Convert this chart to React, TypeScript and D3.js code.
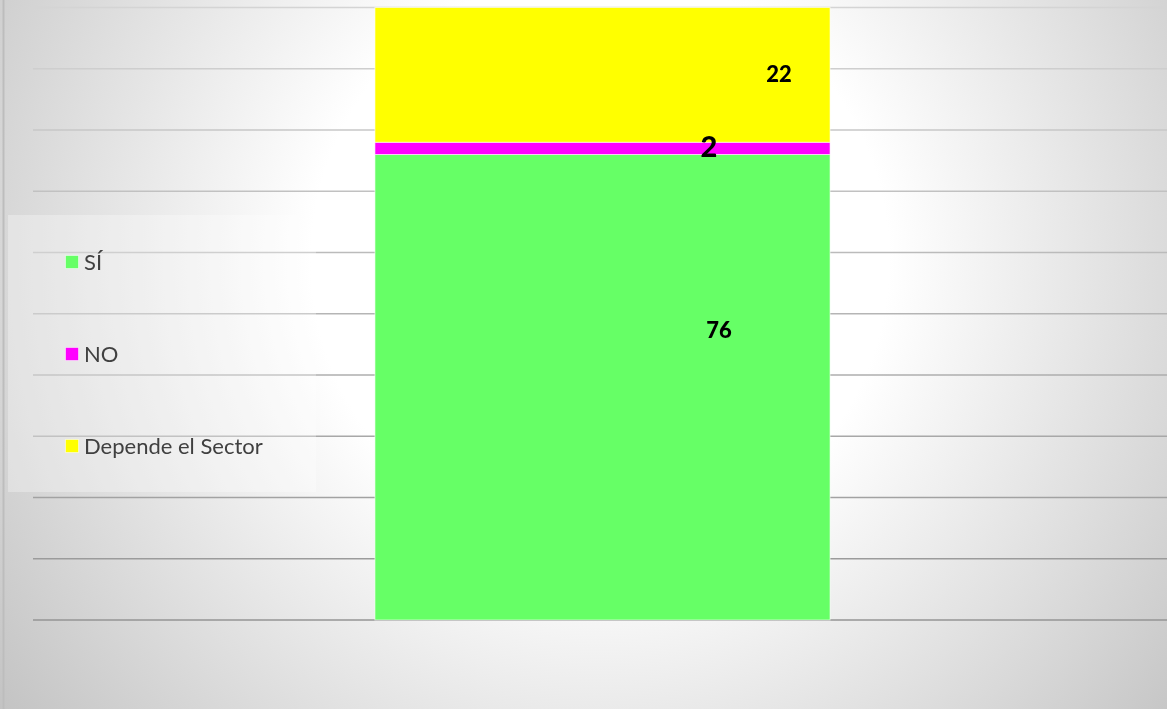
import React from "react";
import * as d3 from "d3";

const categories = ["Encuesta"];
const seriesNames = ["SÍ", "NO", "Depende el Sector"];
const seriesValues = [76, 2, 22];
const seriesColors = ["#66ff66", "#ff00ff", "#ffff00"];
const yTicks = [0, 10, 20, 30, 40, 50, 60, 70, 80, 90, 100];

const W = 1167;
const H = 709;

export default function App() {
  const y = d3.scaleLinear().domain([0, 100]).range([620, 7.5]);
  const x = d3.scaleBand<string>().domain(categories).range([33, 1172]).paddingInner(0.429).paddingOuter(0.429);
  const stackData = [Object.fromEntries(seriesNames.map((n, i) => [n, seriesValues[i]]))];
  const stack = d3.stack<any>().keys(seriesNames)(stackData as any);
  const gridColor = d3.scaleLinear<string>().domain([7.5, 620]).range(["#d4d4d4", "#959595"]);
  const bx = x(categories[0])!;
  const bw = x.bandwidth();

  const labelPos = [
    { x: 719, y: 338, size: 22 },
    { x: 709, y: 157, size: 29 },
    { x: 779, y: 82, size: 22 },
  ];
  const legendY = [262, 354, 446];

  return (
    <div style={{ position: "fixed", left: 0, top: 0, width: W, height: H }}>
      <svg width={W} height={H} style={{ display: "block" }}>
        <defs>
          <radialGradient id="bg" gradientUnits="userSpaceOnUse" cx={600} cy={260} r={760}>
            <stop offset="0" stopColor="#ffffff" />
            <stop offset="0.38" stopColor="#ffffff" />
            <stop offset="1" stopColor="#c2c2c2" />
          </radialGradient>
        </defs>
        <rect x={0} y={0} width={W} height={H} fill="url(#bg)" />
        <line x1={3.5} x2={3.5} y1={0} y2={H} stroke="#bdbdbd" strokeWidth={2} />
        {yTicks.map((t) => (
          <line
            key={t}
            x1={33}
            x2={W}
            y1={y(t)}
            y2={y(t)}
            stroke={gridColor(y(t))}
            strokeWidth={1.5}
          />
        ))}
        {stack.map((s, i) => (
          <rect
            key={seriesNames[i]}
            x={bx}
            width={bw}
            y={y(s[0][1])}
            height={y(s[0][0]) - y(s[0][1])}
            fill={seriesColors[i]}
            stroke="#ffffff"
            strokeOpacity={0.6}
            strokeWidth={1}
          />
        ))}
        {seriesValues.map((v, i) => (
          <text
            key={i}
            x={labelPos[i].x}
            y={labelPos[i].y}
            textAnchor="middle"
            fontFamily="Lato, sans-serif"
            fontWeight={900}
            fontSize={labelPos[i].size}
            fill="#000"
          >
            {v}
          </text>
        ))}
        <rect x={8} y={215} width={308} height={277} fill="#ffffff" fillOpacity={0.3} />
        {seriesNames.map((n, i) => {
          const ly = legendY[i];
          return (
            <g key={n}>
              <rect x={65.5} y={ly - 6.5} width={13} height={13} fill={seriesColors[i]} stroke="#ffffff" strokeOpacity={0.5} />
              <text
                x={84}
                y={ly + 7.5}
                fontFamily="Lato, sans-serif"
                fontSize={22}
                fill="#404040"
              >
                {n}
              </text>
            </g>
          );
        })}
      </svg>
    </div>
  );
}
